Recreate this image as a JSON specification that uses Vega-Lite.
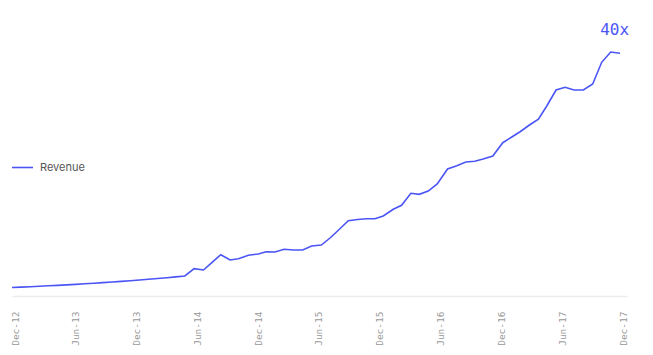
{
  "$schema": "https://vega.github.io/schema/vega-lite/v6.json",
  "width": 615,
  "height": 244,
  "autosize": {"type": "none"},
  "padding": {"left": 12, "top": 52, "right": 26, "bottom": 59},
  "background": "white",
  "config": {"view": {"stroke": null}},
  "data": {"values": [
    {"date": "2012-12-01", "value": 1.39, "series": "Revenue"},
    {"date": "2012-12-28", "value": 1.45, "series": "Revenue"},
    {"date": "2013-01-25", "value": 1.52, "series": "Revenue"},
    {"date": "2013-02-21", "value": 1.59, "series": "Revenue"},
    {"date": "2013-03-20", "value": 1.67, "series": "Revenue"},
    {"date": "2013-04-17", "value": 1.74, "series": "Revenue"},
    {"date": "2013-05-14", "value": 1.82, "series": "Revenue"},
    {"date": "2013-06-10", "value": 1.91, "series": "Revenue"},
    {"date": "2013-07-08", "value": 2.0, "series": "Revenue"},
    {"date": "2013-08-04", "value": 2.09, "series": "Revenue"},
    {"date": "2013-08-31", "value": 2.19, "series": "Revenue"},
    {"date": "2013-09-28", "value": 2.29, "series": "Revenue"},
    {"date": "2013-10-25", "value": 2.39, "series": "Revenue"},
    {"date": "2013-11-21", "value": 2.5, "series": "Revenue"},
    {"date": "2013-12-19", "value": 2.62, "series": "Revenue"},
    {"date": "2014-01-15", "value": 2.74, "series": "Revenue"},
    {"date": "2014-02-11", "value": 2.87, "series": "Revenue"},
    {"date": "2014-03-11", "value": 3.0, "series": "Revenue"},
    {"date": "2014-04-07", "value": 3.14, "series": "Revenue"},
    {"date": "2014-05-04", "value": 3.28, "series": "Revenue"},
    {"date": "2014-06-01", "value": 4.48, "series": "Revenue"},
    {"date": "2014-06-29", "value": 4.26, "series": "Revenue"},
    {"date": "2014-07-25", "value": 5.52, "series": "Revenue"},
    {"date": "2014-08-20", "value": 6.77, "series": "Revenue"},
    {"date": "2014-09-17", "value": 5.9, "series": "Revenue"},
    {"date": "2014-10-12", "value": 6.11, "series": "Revenue"},
    {"date": "2014-11-11", "value": 6.67, "series": "Revenue"},
    {"date": "2014-12-11", "value": 6.89, "series": "Revenue"},
    {"date": "2015-01-03", "value": 7.26, "series": "Revenue"},
    {"date": "2015-01-30", "value": 7.21, "series": "Revenue"},
    {"date": "2015-02-26", "value": 7.66, "series": "Revenue"},
    {"date": "2015-03-26", "value": 7.54, "series": "Revenue"},
    {"date": "2015-04-23", "value": 7.54, "series": "Revenue"},
    {"date": "2015-05-20", "value": 8.2, "series": "Revenue"},
    {"date": "2015-06-18", "value": 8.36, "series": "Revenue"},
    {"date": "2015-07-16", "value": 9.59, "series": "Revenue"},
    {"date": "2015-08-12", "value": 10.98, "series": "Revenue"},
    {"date": "2015-09-07", "value": 12.34, "series": "Revenue"},
    {"date": "2015-10-05", "value": 12.54, "series": "Revenue"},
    {"date": "2015-11-01", "value": 12.67, "series": "Revenue"},
    {"date": "2015-11-26", "value": 12.67, "series": "Revenue"},
    {"date": "2015-12-21", "value": 13.11, "series": "Revenue"},
    {"date": "2016-01-20", "value": 14.21, "series": "Revenue"},
    {"date": "2016-02-14", "value": 14.87, "series": "Revenue"},
    {"date": "2016-03-13", "value": 16.84, "series": "Revenue"},
    {"date": "2016-04-07", "value": 16.67, "series": "Revenue"},
    {"date": "2016-05-04", "value": 17.21, "series": "Revenue"},
    {"date": "2016-05-31", "value": 18.36, "series": "Revenue"},
    {"date": "2016-07-01", "value": 20.82, "series": "Revenue"},
    {"date": "2016-07-29", "value": 21.36, "series": "Revenue"},
    {"date": "2016-08-25", "value": 21.97, "series": "Revenue"},
    {"date": "2016-09-21", "value": 22.08, "series": "Revenue"},
    {"date": "2016-10-16", "value": 22.46, "series": "Revenue"},
    {"date": "2016-11-14", "value": 22.95, "series": "Revenue"},
    {"date": "2016-12-14", "value": 25.13, "series": "Revenue"},
    {"date": "2017-01-10", "value": 26.07, "series": "Revenue"},
    {"date": "2017-02-04", "value": 26.93, "series": "Revenue"},
    {"date": "2017-03-04", "value": 28.03, "series": "Revenue"},
    {"date": "2017-03-31", "value": 28.97, "series": "Revenue"},
    {"date": "2017-04-25", "value": 31.15, "series": "Revenue"},
    {"date": "2017-05-23", "value": 33.77, "series": "Revenue"},
    {"date": "2017-06-19", "value": 34.21, "series": "Revenue"},
    {"date": "2017-07-16", "value": 33.77, "series": "Revenue"},
    {"date": "2017-08-13", "value": 33.77, "series": "Revenue"},
    {"date": "2017-09-10", "value": 34.75, "series": "Revenue"},
    {"date": "2017-10-07", "value": 38.31, "series": "Revenue"},
    {"date": "2017-11-03", "value": 40.0, "series": "Revenue"},
    {"date": "2017-12-01", "value": 39.79, "series": "Revenue"}
  ]},
  "encoding": {
    "x": {
      "field": "date",
      "type": "temporal",
      "scale": {
        "type": "utc",
        "domain": [
          {"year": 2012, "month": 12, "date": 1, "utc": true},
          {"year": 2017, "month": 12, "date": 22, "utc": true}
        ]
      },
      "axis": {
        "title": null,
        "values": [
          {"year": 2012, "month": 12, "date": 1, "utc": true},
          {"year": 2013, "month": 6, "date": 1, "utc": true},
          {"year": 2013, "month": 12, "date": 1, "utc": true},
          {"year": 2014, "month": 6, "date": 1, "utc": true},
          {"year": 2014, "month": 12, "date": 1, "utc": true},
          {"year": 2015, "month": 6, "date": 1, "utc": true},
          {"year": 2015, "month": 12, "date": 1, "utc": true},
          {"year": 2016, "month": 6, "date": 1, "utc": true},
          {"year": 2016, "month": 12, "date": 1, "utc": true},
          {"year": 2017, "month": 6, "date": 1, "utc": true},
          {"year": 2017, "month": 12, "date": 1, "utc": true}
        ],
        "format": "%b-%y",
        "labelAngle": -90,
        "labelFont": "DejaVu Sans Mono",
        "labelFontSize": 9.5,
        "labelColor": "#999999",
        "labelPadding": 15,
        "labelOffset": 3,
        "ticks": false,
        "grid": false,
        "domainColor": "#ececec",
        "domainWidth": 1.5
      }
    },
    "y": {
      "field": "value",
      "type": "quantitative",
      "scale": {"domain": [0, 40]},
      "axis": null
    }
  },
  "layer": [
    {
      "mark": {"type": "line", "strokeWidth": 1.6, "clip": false},
      "encoding": {
        "color": {
          "field": "series",
          "type": "nominal",
          "scale": {"range": ["#4b55f5"]},
          "legend": {
            "title": null,
            "orient": "none",
            "legendX": -1,
            "legendY": 104,
            "padding": 0,
            "symbolType": "stroke",
            "symbolSize": 441,
            "symbolStrokeWidth": 1.6,
            "labelFont": "Inter",
            "labelFontSize": 11,
            "labelColor": "#555555",
            "labelOffset": 6
          }
        }
      }
    },
    {
      "transform": [{"filter": "datum.value >= 40"}],
      "mark": {
        "type": "text",
        "font": "DejaVu Sans Mono",
        "fontSize": 16,
        "color": "#4b55f5",
        "align": "center",
        "baseline": "alphabetic",
        "dx": 4,
        "dy": -17
      },
      "encoding": {"text": {"value": "40x"}}
    }
  ]
}
